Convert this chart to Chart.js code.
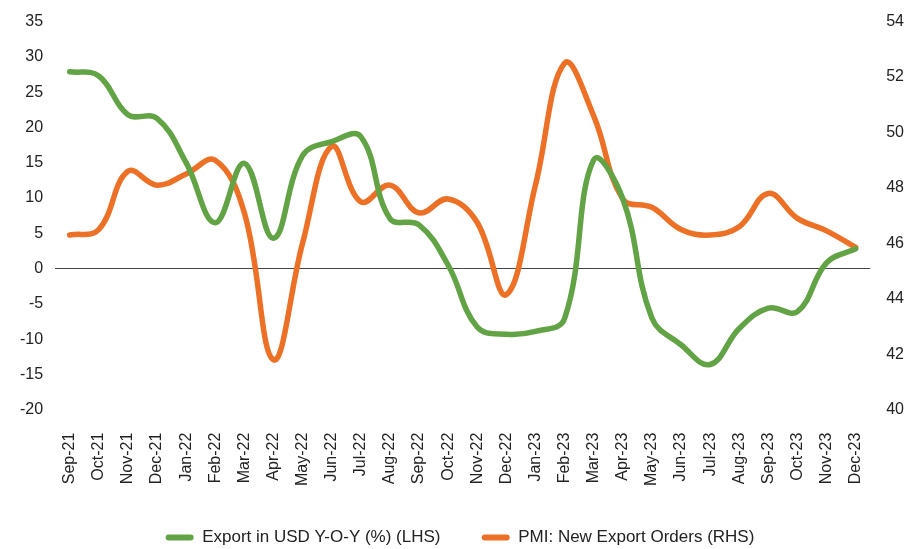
<!DOCTYPE html>
<html>
<head>
<meta charset="utf-8">
<script src="https://cdn.jsdelivr.net/npm/chart.js@4.4.1/dist/chart.umd.min.js"></script>
<style>
  html, body { margin: 0; padding: 0; background: #fff; }
  #wrap { width: 922px; height: 549px; }
</style>
</head>
<body>
<div id="wrap"><canvas id="chart"></canvas></div>
<script>
const months = ["Sep-21", "Oct-21", "Nov-21", "Dec-21", "Jan-22", "Feb-22", "Mar-22", "Apr-22",
  "May-22", "Jun-22", "Jul-22", "Aug-22", "Sep-22", "Oct-22", "Nov-22", "Dec-22", "Jan-23",
  "Feb-23", "Mar-23", "Apr-23", "May-23", "Jun-23", "Jul-23", "Aug-23", "Sep-23", "Oct-23",
  "Nov-23", "Dec-23"];

// Export in USD Y-O-Y (%), left axis
const exportYoY = [27.9, 27.3, 21.8, 21.3, 15.0, 6.5, 14.9, 4.3, 16.0, 18.0, 18.7, 7.1, 6.2,
  0.5, -8.3, -9.3, -8.9, -7.1, 15.4, 9.9, -7.0, -10.8, -13.6, -8.5, -5.6, -6.1, 0.8, 2.8];

// PMI: New Export Orders, right axis
const pmiExport = [46.3, 46.5, 48.6, 48.1, 48.5, 49.0, 47.1, 41.8, 46.0, 49.5, 47.5, 48.1, 47.1,
  47.6, 46.75, 44.15, 48.1, 52.5, 50.6, 47.6, 47.3, 46.5, 46.3, 46.6, 47.8, 46.9, 46.45, 45.85];

const leftTicks = { min: -20, max: 35, step: 5 };
const rightTicks = { min: 40, max: 54, step: 2 };

const green = "#62a345";
const orange = "#ec7025";
const fontFamily = "'Liberation Sans', Arial, sans-serif";

const ctx = document.getElementById("chart").getContext("2d");
new Chart(ctx, {
  type: "line",
  data: {
    labels: months,
    datasets: [
      {
        label: "Export in USD Y-O-Y (%) (LHS)",
        data: exportYoY,
        yAxisID: "y",
        borderColor: green,
        backgroundColor: green,
        borderWidth: 5.5,
        tension: 0.4,
        pointRadius: 0,
        borderCapStyle: "round",
      },
      {
        label: "PMI: New Export Orders (RHS)",
        data: pmiExport,
        yAxisID: "y1",
        borderColor: orange,
        backgroundColor: orange,
        borderWidth: 5.5,
        tension: 0.4,
        pointRadius: 0,
        borderCapStyle: "round",
      },
    ],
  },
  options: {
    responsive: true,
    maintainAspectRatio: false,
    animation: false,
    layout: { padding: { left: 8, right: 10, top: 2, bottom: -7 } },
    plugins: {
      legend: {
        position: "bottom",
        labels: {
          font: { family: fontFamily, size: 17 },
          color: "#222",
          boxWidth: 28,
          boxHeight: 6,
          useBorderRadius: true,
          borderRadius: 3,
          padding: 28,
          // a little more room between the two entries, flat boxes
          generateLabels: (chart) => {
            const items = Chart.defaults.plugins.legend.labels.generateLabels(chart);
            items.forEach((it) => { it.lineWidth = 0; });
            items[0].text += " \u2002";
            return items;
          },
        },
      },
      tooltip: { enabled: false },
    },
    scales: {
      x: {
        offset: true,
        grid: { display: false },
        border: { display: false },
        ticks: {
          minRotation: 90,
          maxRotation: 90,
          autoSkip: false,
          padding: 15,
          color: "#222",
          font: { family: fontFamily, size: 16 },
        },
      },
      y: {
        position: "left",
        min: leftTicks.min,
        max: leftTicks.max,
        border: { display: false },
        grid: {
          drawTicks: false,
          lineWidth: 1,
          color: (c) => (c.tick && c.tick.value === 0 ? "#444" : "transparent"),
        },
        ticks: {
          stepSize: leftTicks.step,
          padding: 12,
          color: "#222",
          font: { family: fontFamily, size: 16 },
        },
      },
      y1: {
        position: "right",
        min: rightTicks.min,
        max: rightTicks.max,
        border: { display: false },
        grid: { display: false },
        ticks: {
          stepSize: rightTicks.step,
          padding: 8,
          color: "#222",
          font: { family: fontFamily, size: 16 },
        },
      },
    },
  },
});
</script>
</body>
</html>
